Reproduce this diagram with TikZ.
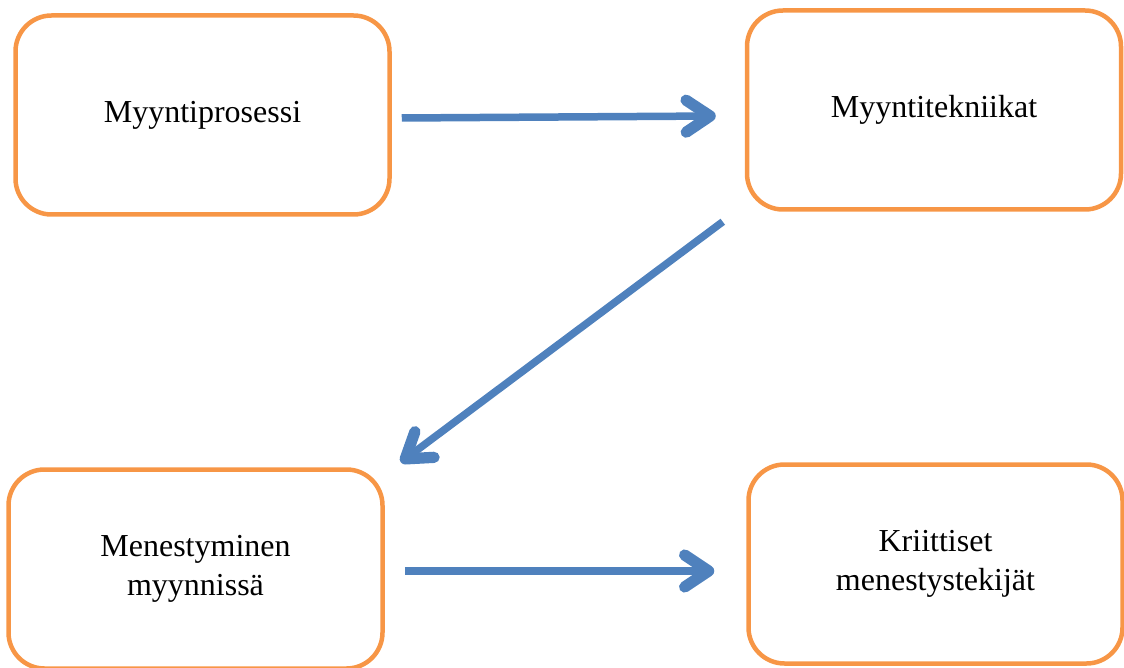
\documentclass[tikz,border=0pt]{standalone}
\usepackage{fontspec}
\setmainfont{Liberation Serif}
\usetikzlibrary{arrows.meta}
\definecolor{boxorange}{HTML}{F79646}
\definecolor{flowblue}{HTML}{4F81BD}
\begin{document}
\begin{tikzpicture}[x=1pt,y=-1pt,
    stage/.style={draw=boxorange,line width=4.5pt,rounded corners=36pt,
      minimum width=374pt,minimum height=199pt,align=center,
      font=\fontsize{32}{39}\selectfont},
    flow/.style={draw=flowblue,line width=7.5pt,
      -{Straight Barb[length=24pt,width=32pt,round,line width=0pt 1.5]}}]
  \useasboundingbox (0,0) rectangle (1124,668);
  % the four stages
  \foreach \n/\x/\y/\t in {proc/202.5/115/{Myyntiprosessi},
      tek/934/110/{Myyntitekniikat},
      men/195.5/569/{Menestyminen\\myynnissä},
      krit/935.5/564/{Kriittiset\\menestystekijät}}{
    \node[stage] (\n) at (\x,\y) {\t};
  }
  % arrows between them
  \draw[flow] ([xshift=10pt,yshift=-3pt]proc.east) -- ([xshift=-29pt,yshift=-6pt]tek.west);
  \draw[flow] ([xshift=-22pt,yshift=-10pt]tek.south west) -- ([xshift=16pt,yshift=5pt]men.north east);
  \draw[flow] ([xshift=20pt,yshift=-2pt]men.east) -- ([xshift=-32pt,yshift=-7pt]krit.west);
\end{tikzpicture}
\end{document}
